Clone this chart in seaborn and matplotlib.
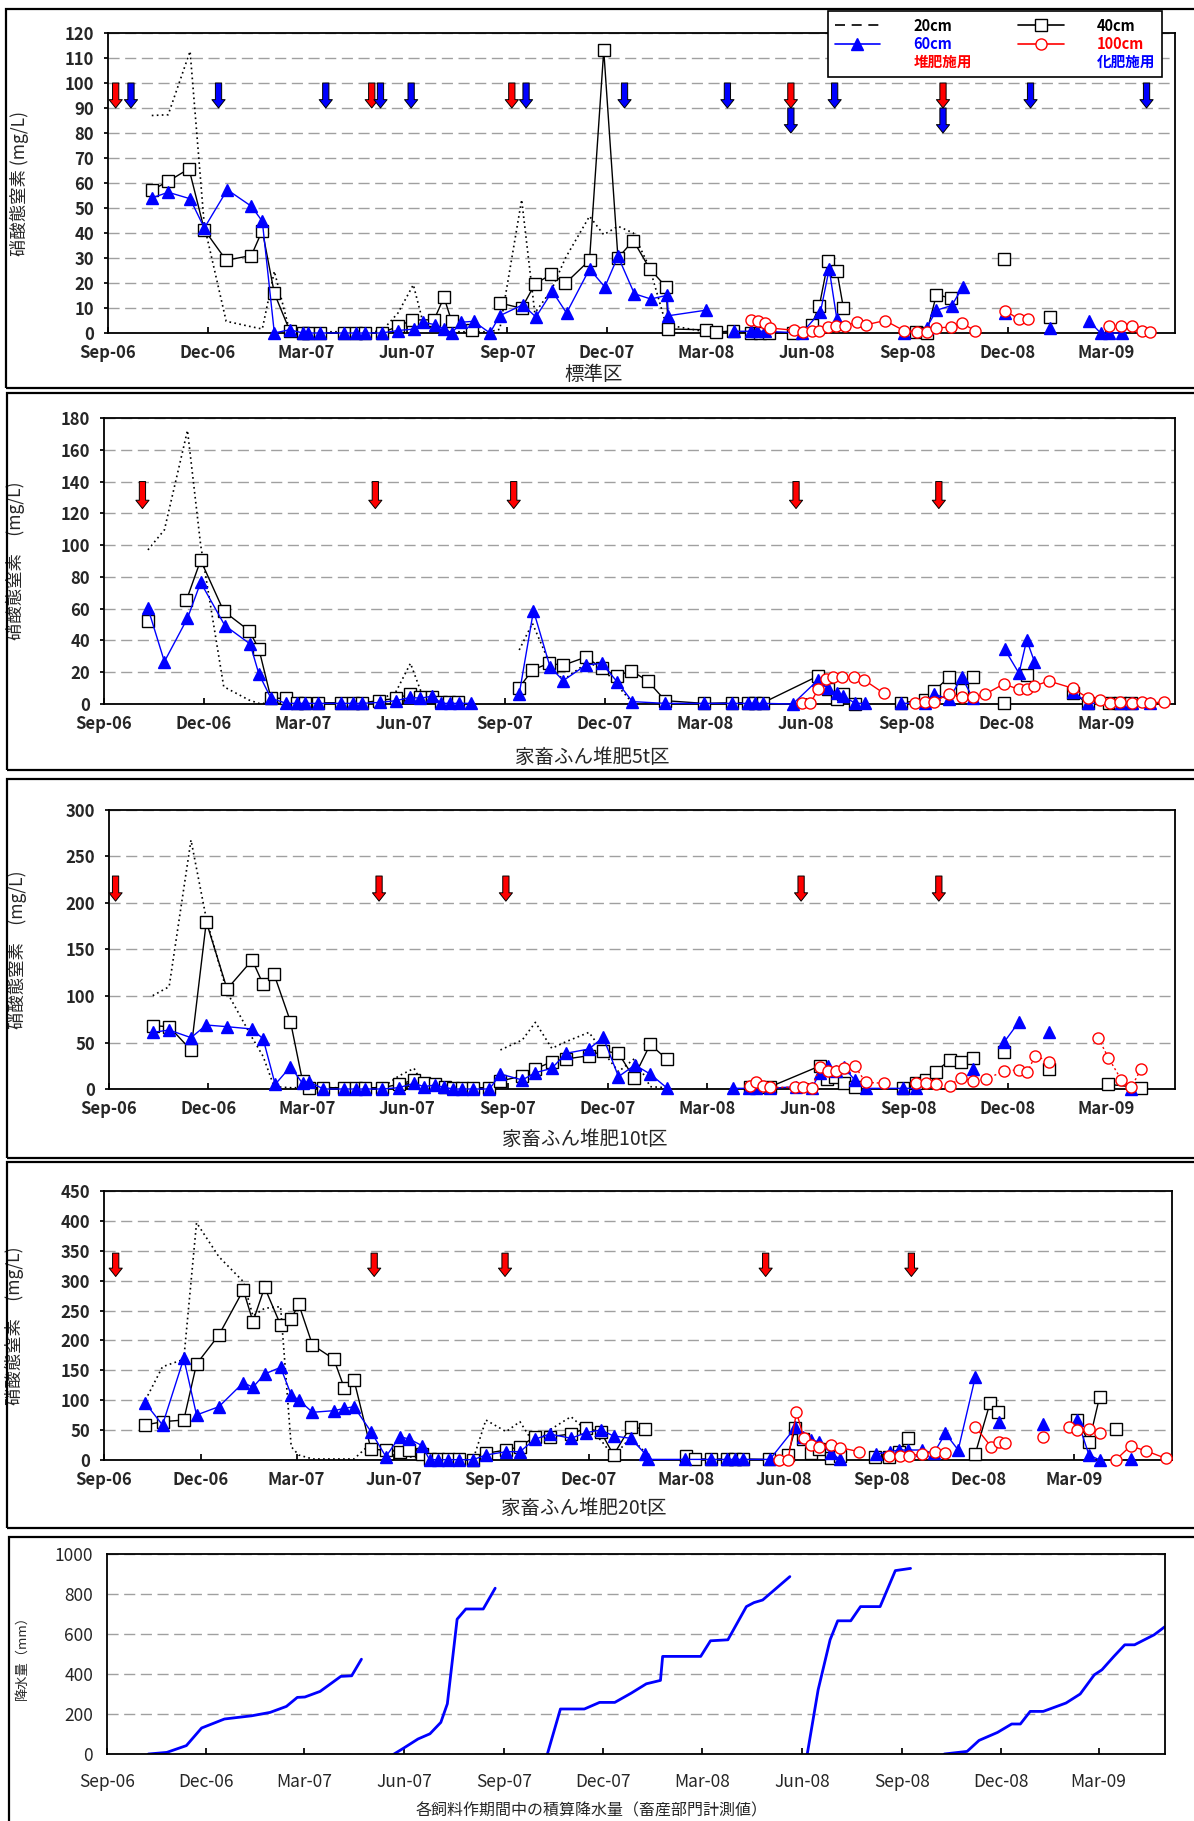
import numpy as np
import pandas as pd
import matplotlib
matplotlib.use("Agg")
import matplotlib.pyplot as plt
import seaborn as sns
from matplotlib.lines import Line2D
from matplotlib.patches import Rectangle

# sampling day = days elapsed since 2006-09-01, None = blank cell (line break)
START = pd.Timestamp("2006-09-01")

# --- 標準区 -------------------------------------------------------------
std_day20 = [40, 55, 75, 88, 108, 131, 141, 152, 166, 178, 183, 194, 216, 227, 235, 250, 265, 279, 288, 298,
             307, 314, 323, 333, 349, 358, 378, 390, 405, 418, 440, 453, 466, 480, 495, 510, 546]
std_no3_20 = [87, 87.3, 112.7, 43, 4.7, 2.5, 1.6, 24.7, 0.7, 0.5, 0.5, 0.5, 0.5, 0.5, 0.5, 0.7, 8, 19.3, 4, 1,
              0.5, 0.5, 0.5, 0.5, 0.5, 1.5, 53.3, 8, 17, 30, 46.7, 39.3, 42.7, 40, 26, 3.3, 0.5]
std_day40 = [40, 55, 74, 88, 108, 131, 141, 152, 166, 178, 183, 194, 216, 227, 235, 250, 265, 278, 298, 307,
             314, 333, None, 358, 378, 390, 405, 418, 440, 453, 466, 480, 495, 510, 512, 546, 556, 571, 588,
             596, 604, 626, 643, 650, 658, 666, 672, None, 738, 748, 757, 770, None, 819, None, 861]
std_no3_40 = [57.1, 60.7, 65.7, 41.3, 29.1, 31, 41, 15.9, 1, 0, 0, 0, 0, 0, 0, 0, 2.7, 5.2, 5.3, 14.3,
              4.7, 1.3, None, 12, 9.9, 19.5, 23.5, 19.9, 29.1, 113.1, 30, 37, 25.7, 18.4, 1.6, 1.3, 0.3, 0.9, 0,
              0, 0, 0, 3.3, 10.9, 28.7, 25, 10, None, 0.5, 0, 15.3, 14, None, 29.7, None, 6.3]
std_day60 = [40, 55, 75, 88, 109, 131, 141, 152, 166, 178, 183, 194, 216, 227, 235, 250, 265, 280, 288, 299,
             307, 314, 323, 334, 349, 358, 379, 391, 406, 419, 440, 454, 466, 481, 496, 511, 512, 546, None,
             572, 588, 593, 600, 634, 651, 659, 666, None, 727, 748, 757, 771, 781, None, 820, None, 861, None,
             896, 907, 915, 927]
std_no3_60 = [54, 56.3, 53.7, 42, 57.3, 50.7, 44.7, 0, 1.3, 0, 0, 0, 0, 0, 0, 0, 1, 1.6, 4.3, 3.3,
              1.6, 0, 4.3, 4.7, 0, 6.9, 11.3, 6.4, 16.7, 8, 25.6, 18.4, 30.7, 15.7, 13.6, 15.1, 6.9, 9.1, None,
              0.7, 0.7, 0.7, 0.7, 0, 8.4, 25.6, 5.6, None, 0, 2, 9.1, 11, 18.4, None, 8, None, 2, None,
              5, 0, 0, 0]
std_day100 = [588, 594, 600, 605, 627, 635, 643, 650, 658, 665, 673, 684, 693, 710, 727, 739, 748, 757, 770,
              780, 792, None, 820, 832, 841, None, 915, 926, 936, 945, 952]
std_no3_100 = [5.3, 5, 4, 2, 1.1, 0.4, 0.7, 1, 2.3, 2.7, 2.9, 4.3, 3.3, 5, 1, 0.4, 0.3, 2, 2.4,
               4, 1, None, 8.9, 5.6, 5.6, None, 2.7, 2.7, 2.7, 0.7, 0.3]
std_compost = [7, 241, 369, 624, 763]
std_chemical = [21, 101, 199, 249, 277, 382, 472, 566, 624, 664, 763, 843, 949]

# --- 家畜ふん堆肥5t区 ----------------------------------------------------
t5_day20 = [40, 55, 76, 88, 109, 132, 141, 152, 166, 176, 183, 195, 216, 227, 235, 250, 266, 279, 288, 299,
            307, 314, 322, None, 378, 390, 405, 418, 439, 453, 467, 480]
t5_no3_20 = [97, 109.6, 172.2, 100, 10.9, 2.5, 0.4, 0.4, 0.4, 0.4, 0.4, 0.4, 0.4, 0.4, 0.4, 2, 8, 25.6, 8.8, 1,
             0.4, 0.4, 0.4, None, 34, 50.8, 26.7, 15, 25.6, 23.5, 12, 1.5]
t5_day40 = [40, None, 75, 88, 109, 132, 141, 152, 166, 176, 183, 195, 216, 227, 235, 250, 266, 279, 288, 299,
            307, 314, 322, None, 378, 390, 405, 418, 439, 453, 467, 480, 495, 511, 546, 572, 586, 593, 600,
            650, 659, 667, 673, 684, None, 726, 747, 756, 769, 781, 791, None, 819, None, 840, None, 882, 896,
            915, 925, 935]
t5_no3_40 = [52.3, None, 65.3, 90.5, 58.4, 46.2, 34.7, 3.6, 3.6, 0.8, 0.8, 0.8, 0.8, 0.8, 0.8, 2.1, 3.6, 6.3,
             4.6, 4.2, 1, 1, 1.5, None, 10.3, 21.4, 25.6, 24.4, 29.6, 22.5, 17.6, 21, 14.5, 2.1, 0.4, 0.8, 0.8,
             0.8, 0.8, 17.6, 9.5, 2.9, 6.3, 0, None, 0.8, 2.5, 8.4, 16.8, 8.8, 16.8, None, 0.4, None, 18.3,
             None, 6.7, 0.4, 0.4, 0.4, 0.4]
t5_day60 = [40, 55, 76, 88, 110, 133, 141, 152, 166, 176, 183, 195, 216, 227, 235, 251, 266, 279, 288, 299,
            307, 315, 323, 334, None, 378, 391, 406, 418, 439, 453, 467, 481, 511, 546, 572, 586, 593, 600,
            627, 650, 659, 667, 673, 684, 693, None, 726, 747, 756, 769, 781, 791, None, 820, 833, 840, 847,
            None, 882, 896, 926, 936, 952]
t5_no3_60 = [60.3, 26.7, 54, 76.5, 49.4, 37.8, 18.9, 3.6, 0.4, 0.4, 0.4, 0.4, 0.4, 0.4, 0.4, 1, 2.1, 4.2, 3.6, 5,
             0.4, 0.4, 0.4, 0.4, None, 6.3, 58.8, 23.5, 14.7, 24.6, 25.6, 14.1, 1.5, 0.4, 0.4, 0.4, 0.4, 0.4,
             0.4, 0, 15.1, 9.9, 6.7, 5, 0.4, 0.4, None, 0.4, 0.4, 6.3, 2.9, 16.8, 3.6, None, 34.4, 19.3, 40.3,
             26.7, None, 7.8, 0.4, 0.4, 0.4, 0.4]
t5_day100 = [635, 643, 650, 657, 664, 672, 683, 692, 710, None, 738, 747, 756, 769, 781, 791, 802, 819, 833,
             840, 847, 860, 882, 896, 907, 916, 925, 936, 945, 952, 965]
t5_no3_100 = [0.4, 0.4, 9.2, 15.5, 17.2, 17.2, 16.8, 15.1, 6.7, None, 0.8, 1, 1.5, 6.3, 4.6, 4.2, 6.1, 12.6,
              9.2, 9.2, 11.3, 14.5, 9.9, 3.6, 2.5, 0.8, 1.5, 0.4, 1, 0.4, 1.5]
t5_compost = [35, 247, 373, 630, 760]

# --- 家畜ふん堆肥10t区 ---------------------------------------------------
t10_day20 = [40, 55, 75, 89, 108, 131, 141, 151, 166, 177, 183, 196, 215, 226, 234, 250, 265, 279, 288, 298,
             307, 315, 323, 333, 348, None, 358, 378, 390, 405, 418, 439, 452, 466, 481, 495, 510]
t10_no3_20 = [100.4, 110, 267.7, 183, 104, 55, 35, 2.5, 1.4, 1.4, 1.4, 1.4, 1.4, 1.4, 1.4, 1.4, 14, 22.2, 3,
              1.4, 1.4, 1.4, 1.4, 1.4, 1.4, None, 42, 52.7, 71.7, 43.7, 50.9, 60.9, 40, 18.6, 33, 2.5, 1.4]
t10_day40 = [40, 55, 75, 89, 108, 131, 141, 151, 166, 177, 183, 196, 215, 226, 234, 250, 265, 279, 288, 298,
             307, 315, 323, 333, 348, 358, 378, 390, 405, 418, 439, 452, 466, 480, 495, 510, None, 586, 594,
             605, 650, 657, 664, 672, 682, None, 726, 738, 747, 756, 769, 779, 790, None, 819, None, 860,
             None, 914, 944]
t10_no3_40 = [68.1, 67, 41.9, 179.9, 107.5, 138.7, 112.5, 123.3, 72.4, 8.6, 1.4, 1.4, 1.4, 1.4, 1.4, 1.4, 5,
              9.7, 6.1, 5, 2.5, 1.4, 1.4, 1.4, 1.4, 8.6, 14, 21.5, 29.4, 32.3, 35.8, 40.9, 38.4, 12.2, 48,
              32.3, None, 2.5, 2.5, 2.5, 24.7, 10.8, 13.3, 6.1, 1.8, None, 1.4, 6.1, 9.7, 18.6, 31.2, 28.7,
              33, None, 39.4, None, 21.5, None, 5, 1.4]
t10_day60 = [40, 55, 75, 89, 108, 131, 141, 152, 166, 177, 183, 196, 215, 226, 234, 250, 265, 279, 288, 298,
             306, 315, 323, 333, 348, 358, 378, 390, 405, 418, 439, 452, 466, 481, 495, 510, None, 571, 585,
             592, 605, 628, 643, 650, 658, 665, 672, 682, 692, 726, 738, None, 790, None, 819, 832, None, 860,
             None, 935]
t10_no3_60 = [60.9, 63.4, 55.2, 68.8, 67, 64.5, 53.8, 5, 24, 6.1, 7.9, 0, 0, 0, 0, 0, 1.4, 6.1, 2.5, 4.3,
              1.8, 0, 0, 0, 0, 16.1, 9.7, 17.6, 22.2, 38.4, 43, 55.6, 13.3, 25.8, 16.1, 1.4, None, 0.7, 0.7,
              0.7, 0.7, 2.5, 0.7, 17.6, 24.7, 19.4, 24, 9.7, 0.7, 0.7, 0.7, None, 21.5, None, 50.9, 71.7, None,
              60.9, None, 0]
t10_day100 = [586, 592, 598, 605, 627, 635, 643, 650, 658, 665, 672, 682, 692, 709, None, 738, 747, 756, 769,
              779, 790, 802, 819, 832, 840, 847, 860, None, 905, 914, 926, 935, 944]
t10_no3_100 = [3.6, 7.9, 3.6, 1.8, 1.8, 1.8, 0.7, 24, 19.4, 19.4, 22.2, 25.1, 7.2, 6.1, None, 6.1, 6.1, 5,
               3.6, 12.2, 8.6, 10.4, 19.7, 20.4, 17.9, 35.8, 29.4, None, 54.5, 33.7, 9.7, 1.8, 21.5]
t10_compost = [6, 247, 363, 633, 759]

# --- 家畜ふん堆肥20t区 ---------------------------------------------------
t20_day20 = [39, 55, 75, 87, 108, 131, 140, 151, 166, 176, 183, 196, 216, 226, 235, 251, 265, 278, 287, 299,
             306, 314, 323, 334, 347, 359, 378, 391, 405, 419, 439, 453, 467, 479, 495, 509]
t20_no3_20 = [100.4, 156, 168.4, 397, 340, 298.4, 241, 253.8, 256.6, 22.3, 8.4, 1.7, 1.7, 1.7, 1.7, 27.9,
              11.2, 19.5, 5.6, 1.7, 1, 1, 1, 1, 1, 66.9, 47.4, 64.1, 25.1, 50.2, 72.5, 50.2, 33.5, 5.6, 37.9,
              12.3]
t20_day40 = [39, 55, 75, 87, 108, 131, 140, 151, 166, 176, 183, 196, 216, 226, 235, 251, 265, 278, 287, 299,
             306, 314, 323, 334, 347, 359, 378, 391, 405, 419, 439, 453, 467, 479, 495, 509, None, 547, 556,
             571, 586, 593, 601, 625, 643, 650, 657, 665, 672, 683, 692, None, 725, 738, 747, 756, None, 819,
             833, 840, None, 915, 926, 936, None, 951]
t20_no3_40 = [58.6, 64.1, 66.9, 160.6, 209.1, 284.4, 231.5, 288.9, 225.9, 235.9, 261, 192.4, 169, 119.9,
              133.9, 17.8, 16.7, 13.9, 16.7, 10, 1, 1, 1, 1, 0.5, 11.2, 16.7, 22.3, 39, 39, 43.5, 53, 47.4,
              8.4, 55.8, 51.3, None, 6.7, 1.7, 1.7, 1.7, 1.7, 1.7, 1, 8.4, 54.1, 34.6, 11.2, 17.8, 2.8, 6.7,
              None, 5.6, 5.6, 13.9, 36.3, None, 10, 95.9, 80.9, None, 66.9, 29.6, 106, None, 51.9]
t20_day60 = [39, 55, 75, 87, 108, 131, 140, 151, 166, 176, 183, 196, 216, 226, 235, 251, 265, 278, 287, 299,
             306, 314, 323, 334, 347, 359, 378, 391, 405, 419, 439, 453, 467, 479, 495, 509, 511, 546, 571,
             586, 593, 601, 626, 650, 657, 665, 672, 683, 692, None, 726, 739, 747, 756, 769, 780, 791, 803,
             819, None, 841, None, 883, None, 915, 926, 936, None, 965]
t20_no3_60 = [94.8, 58.6, 170.1, 75.3, 89.2, 129.4, 121.6, 143.9, 155, 108.8, 100.4, 79.8, 82.5, 86.4, 89.2,
              47.4, 5.6, 39, 35.1, 24, 0.5, 0.5, 0.5, 0.5, 0.5, 8.4, 13.9, 13.9, 34.6, 43.5, 36.3, 45.7, 50.2,
              40.2, 36.3, 10, 1, 1, 1, 1, 1, 1, 1, 54.7, 38, 33, 30.7, 12.3, 1, None, 10, 13.9, 16.7, 16.7,
              16.7, 11.2, 44.6, 16.7, 138.3, None, 64.1, None, 60.2, None, 66.9, 8.4, 0, None, 1]
t20_day100 = [635, 643, 651, 658, 665, 672, 683, 692, 710, None, 738, 748, 757, 769, 781, 791, None, 819, 834,
              841, 847, None, 883, None, 907, 915, 926, 936, None, 951, 965, 980, 998]
t20_no3_100 = [0, 0, 79.8, 36.3, 25.1, 21.2, 25.1, 20.6, 13.9, None, 6.7, 7.3, 7.3, 10, 13.9, 11.2, None,
               55.8, 22.3, 29.6, 27.9, None, 37.9, None, 55.8, 50.2, 51.3, 45.7, None, 0, 23.4, 15.1, 2.8]
t20_compost = [11, 254, 377, 622, 759]

# --- 積算降水量 (mm) ------------------------------------------------------
rain1_day = [38, 55, 73, 87, 108, 133, 150, 165, 175, 182, 196, 215, 225, 234]
rain1_mm = [0, 8, 42, 130, 175, 191, 208, 238, 283, 285, 313, 388, 391, 474]
rain2_day = [264, 273, 286, 297, 307, 313, 322, 330, 346, 357]
rain2_mm = [0, 30, 75, 101, 158, 251, 674, 725, 725, 829]
rain3_day = [405, 417, 439, 453, 467, 482, 496, 509, 511, 546, 555, 571, 588, 595, 603, 628]
rain3_mm = [0, 225, 225, 258, 258, 304, 351, 368, 488, 488, 566, 571, 737, 757, 770, 887]
rain4_day = [644, 654, 665, 672, 684, 693, 711, 725, 739]
rain4_mm = [0, 321, 571, 666, 666, 737, 737, 917, 928]
rain5_day = [770, 791, 802, 819, 832, 840, 849, 861, 882, 895, 908, 915, 926, 936, 945, 963, 973]
rain5_mm = [0, 13, 68, 108, 150, 150, 213, 213, 255, 300, 396, 421, 488, 546, 546, 596, 637]

legend_labels = ["20cm", "60cm", "堆肥施用", "40cm", "100cm", "化肥施用"]
panel_titles = ["標準区", "家畜ふん堆肥5t区", "家畜ふん堆肥10t区", "家畜ふん堆肥20t区",
                "各飼料作期間中の積算降水量（畜産部門計測値）"]

# ----------------------------------------------------------------------
BLUE, RED = "#0000FF", "#FF0000"
W, H = 1194, 1821

sns.set_theme(style="white")
plt.rcParams["font.family"] = ["Noto Sans CJK JP", "DejaVu Sans"]
plt.rcParams["axes.unicode_minus"] = False

fig = plt.figure(figsize=(W / 100, H / 100), dpi=100)
fig.patch.set_facecolor("white")


def box(l, t, r, b):
    return [l / W, 1 - b / H, (r - l) / W, (b - t) / H]


def arr(a):
    return np.array([np.nan if v is None else v for v in a], dtype=float)


tick_dates = pd.date_range("2006-09-01", "2009-03-01", freq="3MS")
tick_days = (tick_dates - START).days
tick_labels = [d.strftime("%b-%y") for d in tick_dates]

# panel frames
for l, t, b in [(6, 9, 388), (7, 393, 770), (7, 779, 1158), (7, 1162, 1528), (9, 1537, 1830)]:
    fig.patches.append(Rectangle((l / W, 1 - b / H), (1210 - l) / W, (b - t) / H,
                                 transform=fig.transFigure, fill=False, ec="black", lw=1.6))


def style_axes(ax, xmax, ymax, ystep, ticksize=12, bold=True, xpad=8):
    ax.set_xlim(0, xmax)
    ax.set_ylim(0, ymax)
    ax.set_yticks(np.arange(0, ymax + 1, ystep))
    ax.set_xticks(tick_days)
    ax.set_xticklabels(tick_labels)
    ax.yaxis.grid(True, color="#a0a0a0", ls=(0, (8, 4)), lw=1)
    ax.xaxis.grid(False)
    ax.set_facecolor("white")
    ax.tick_params(axis="x", direction="in", length=4, bottom=True, pad=xpad, labelsize=ticksize, color="black")
    ax.tick_params(axis="y", direction="out", length=3, left=True, pad=7, labelsize=ticksize, color="black")
    for lab in ax.get_xticklabels() + ax.get_yticklabels():
        lab.set_fontweight("bold" if bold else "normal")
    for s in ax.spines.values():
        s.set_visible(True)
        s.set_color("black")
        s.set_linewidth(1.3)
    ax.set_xlabel("")


def arrow(ax, day, top, bottom, color):
    ax.annotate("", xy=(day, bottom), xytext=(day, top), annotation_clip=False,
                arrowprops=dict(arrowstyle="simple,head_length=0.6,head_width=0.95,tail_width=0.45",
                                fc=color, ec="black", lw=0.7, shrinkA=0, shrinkB=0, mutation_scale=10))


def nitrate_panel(rect, xmax, ymax, ystep, d20, v20, d40, v40, d60, v60, d100, v100,
                  compost, chemical, a_top, a_bot, red_ls, ylabel, labelx):
    ax = fig.add_axes(rect)
    ax.plot(arr(d20), arr(v20), color="black", ls=(0, (1, 2)), lw=1.2, clip_on=False, zorder=3)
    ax.plot(arr(d40), arr(v40), color="black", lw=1, marker="s", ms=8, mfc="white", mec="black",
            mew=1, clip_on=False, zorder=4)
    ax.plot(arr(d60), arr(v60), color=BLUE, lw=1, marker="^", ms=9, mfc=BLUE, mec=BLUE,
            clip_on=False, zorder=5)
    ax.plot(arr(d100), arr(v100), color=RED, lw=1, ls=red_ls, marker="o", ms=8, mfc="white", mec=RED,
            mew=1, clip_on=False, zorder=6)
    style_axes(ax, xmax, ymax, ystep)
    step = a_top - a_bot
    for d in compost:
        arrow(ax, d, a_top, a_bot, RED)
    for d in chemical:
        shift = step if d in compost else 0
        arrow(ax, d, a_top - shift, a_bot - shift, BLUE)
    ax.set_ylabel(ylabel, fontsize=12.5)
    ax.yaxis.set_label_coords(labelx, 0.5)
    return ax


ax1 = nitrate_panel(box(108, 33, 1175, 333), 975, 120, 10, std_day20, std_no3_20, std_day40, std_no3_40,
                    std_day60, std_no3_60, std_day100, std_no3_100, std_compost, std_chemical,
                    100, 90, "-", "硝酸態窒素 (mg/L)", -0.074)
ax2 = nitrate_panel(box(104, 418, 1175, 704), 975, 180, 20, t5_day20, t5_no3_20, t5_day40, t5_no3_40,
                    t5_day60, t5_no3_60, t5_day100, t5_no3_100, t5_compost, [],
                    140, 123, "-", "硝酸態窒素　(mg/L)", -0.074)
ax3 = nitrate_panel(box(109, 810, 1175, 1089), 975, 300, 50, t10_day20, t10_no3_20, t10_day40, t10_no3_40,
                    t10_day60, t10_no3_60, t10_day100, t10_no3_100, t10_compost, [],
                    229, 202, (0, (1.5, 2)), "硝酸態窒素　(mg/L)", -0.077)
ax4 = nitrate_panel(box(104, 1191, 1172, 1460), 1004, 450, 50, t20_day20, t20_no3_20, t20_day40, t20_no3_40,
                    t20_day60, t20_no3_60, t20_day100, t20_no3_100, t20_compost, [],
                    346, 307, "-", "硝酸態窒素　(mg/L)", -0.075)

# rainfall panel
rain_df = pd.concat([
    pd.DataFrame({"day": d, "mm": m, "season": i})
    for i, (d, m) in enumerate([(rain1_day, rain1_mm), (rain2_day, rain2_mm), (rain3_day, rain3_mm),
                                (rain4_day, rain4_mm), (rain5_day, rain5_mm)])
])
ax5 = fig.add_axes(box(107, 1554, 1165, 1754))
sns.lineplot(data=rain_df, x="day", y="mm", units="season", estimator=None, sort=False,
             color=BLUE, lw=2, ax=ax5, legend=False)
style_axes(ax5, 973, 1000, 200, ticksize=12.5, bold=False, xpad=14)
ax5.tick_params(axis="y", length=0, pad=10)
ax5.set_ylabel("降水量（mm）", fontsize=9.5)
ax5.yaxis.set_label_coords(-0.074, 0.5)

# panel titles
for (x, y), title, fs in zip([(594, 374), (592, 757), (585, 1139), (584, 1508), (592, 1811)],
                             panel_titles, [14, 14, 14, 14, 11.5]):
    fig.text(x / W, 1 - y / H, title, ha="center", va="center", fontsize=fs)

# legend (custom box in the top panel)
handles = [
    Line2D([], [], color="black", ls=(0, (6, 4)), lw=1.2),
    Line2D([], [], color=BLUE, lw=1.2, marker="^", ms=9, mfc=BLUE, mec=BLUE),
    Line2D([], [], color="none"),
    Line2D([], [], color="black", lw=1.2, marker="s", ms=8, mfc="white", mec="black"),
    Line2D([], [], color=RED, lw=1.2, marker="o", ms=8, mfc="white", mec=RED),
    Line2D([], [], color="none"),
]
leg = fig.legend(handles, legend_labels, ncol=2, loc="upper left", bbox_to_anchor=(828 / W, 1 - 11 / H),
                 frameon=True, fancybox=False, framealpha=1, edgecolor="black", fontsize=10.5,
                 handlelength=3.1, handletextpad=2.3, columnspacing=3.2, labelspacing=0.15,
                 borderpad=0.45, borderaxespad=0)
leg.get_frame().set_linewidth(1.2)
for txt, c in zip(leg.get_texts(), ["black", BLUE, RED, "black", RED, BLUE]):
    txt.set_color(c)
    txt.set_fontweight("bold")

fig.savefig("out.png", dpi=100, facecolor="white")
